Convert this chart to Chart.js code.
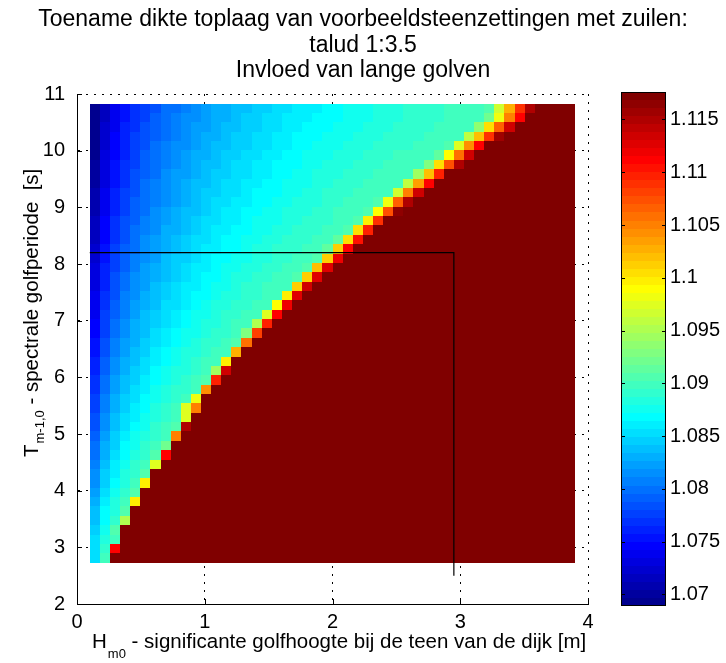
<!DOCTYPE html>
<html>

<head>
  <meta charset="utf-8">
  <title>Toename dikte toplaag - talud 1:3.5</title>
  <script src="https://cdn.jsdelivr.net/npm/chart.js@4/dist/chart.umd.min.js"></script>
  <style>
    html,
    body {
      margin: 0;
      padding: 0;
      background: #fff;
    }

    #wrap {
      position: relative;
      width: 726px;
      height: 663px;
    }

    canvas {
      position: absolute;
      top: 0;
    }
  </style>
</head>

<body>
  <div id="wrap">
    <canvas id="plot" width="726" height="663" style="left:0"></canvas>
    <canvas id="cbar" width="126" height="663" style="left:600px"></canvas>
  </div>
  <script>
    // text
    var titleLines = [
      'Toename dikte toplaag van voorbeeldsteenzettingen met zuilen:',
      'talud 1:3.5',
      'Invloed van lange golven'
    ];
    var xLabel = ['H', 'm0', ' - significante golfhoogte bij de teen van de dijk [m]'];
    var yLabel = ['T', 'm-1,0', ' - spectrale golfperiode  [s]'];

    // axes
    var xTicks = [0, 1, 2, 3, 4];
    var yTicks = [2, 3, 4, 5, 6, 7, 8, 9, 10, 11];
    var cbTicks = ['1.07', '1.075', '1.08', '1.085', '1.09', '1.095', '1.1', '1.105', '1.11', '1.115'];
    var cMin = 1.0689;
    var cMax = 1.1176;

    // grid of the image: Hm0 0.1 .. 3.9 in 48 columns, Tm-1,0 2.73 .. 10.83 in 49 rows
    var hm0From = 0.1, hm0To = 3.9, hm0Cols = 48;
    var tmFrom = 2.73, tmTo = 10.83, tmRows = 49;

    // cell levels (0..63 on the colour scale), one string per row from the top (long period) down,
    // cells left to right; cells past the end of a string are above the top of the colour scale
    var levels = '0123456789abcdefghijklmnopqrstuvwxyzABCDEFGHIJKLMNOPQRSTUVWXYZ@#';
    var rows = [
      '0368abceefghiijjkkllmmmnnooopppqqqqrrrrsAIQY',
      '0368abdefgghiijkkllmmmnnnooopppqqqqrrrruCLT',
      '0469acdefghhijjkkllmmnnnooopppqqqqrrrrwFNW',
      '0479bcdefghiijkkllmmnnnooopppqqqqrrrrzHQZ',
      '0479bcefgghijjkkllmmnnooopppqqqqrrrsBKT',
      '0579bdefghiijkkllmmnnooopppqqqrrrrtDMW',
      '158abdefghijjkllmmnnnoopppqqqrrrrvFOY',
      '158acdeghhijkkllmmnnoopppqqqrrrrxHR',
      '158acefghijjkllmmnnoooppqqqrrrrzJT',
      '269bcefghijkkllmnnnooppqqqrrrrALW',
      '269bdefghijkllmmnnoopppqqrrrsCNY',
      '269bdeghijjklmmnnoopppqqrrrsDO@',
      '37acdfghijkllmmnoooppqqqrrsEQ',
      '37acefgiijklmmnnooppqqqrrsFR',
      '37aceghijkllmnnooppqqqrrtFS',
      '48bdeghijklmmnnoppqqqrrtGT',
      '48bdfghjkklmnnooppqqrrsGU',
      '59bdfhijklmmnooppqqrrsHV',
      '59ceghijklmnnoppqqrrsGV',
      '59ceghjklmmnoopqqrrrGW',
      '6acfgijklmnnoppqqrrEV',
      '6adfhijllmnoppqqrrDU',
      '6bdfhjklmnoopqqrrBT',
      '7begijklmnoppqrryR',
      '7begijlmnoopqqrvP',
      '8cfhiklmnopqqrsM',
      '8cfhjkmnoppqrrI',
      '9dgijlmnopqrrE',
      '9dgiklnoppqrxW',
      'aehjkmnopqrsR',
      'aehjlmopqqrK',
      'bfiklnopqrC',
      'bfikmnpqrBL',
      'cgjlmopqrB',
      'cgjlnoqrsY',
      'dhkmopqrL',
      'eiknoqru',
      'eilnpqsT',
      'fjmoqrB',
      'gkmpqs',
      'gknprE',
      'hloqs',
      'imprE',
      'jnps',
      'jnqy',
      'kos',
      'lpr',
      'lqT',
      'lr'
    ];

    // black guide line (Hm0, Tm-1,0)
    var guideH = [0.1, 2.95, 2.95];
    var guideT = [8.2, 8.2, 2.5];

    var font = "'Liberation Sans', Arial, sans-serif";
    Chart.defaults.font.family = font;
    Chart.defaults.color = '#000';

    var hStep = (hm0To - hm0From) / hm0Cols;
    var tStep = (tmTo - tmFrom) / tmRows;
    var cStep = (cMax - cMin) / 64;

    function jet(k) {
      var i = k + 1, r, g, b;
      b = i <= 8 ? (i + 8) / 16 : i <= 23 ? 1 : i <= 39 ? (40 - i) / 16 : 0;
      g = i <= 8 ? 0 : i <= 24 ? (i - 8) / 16 : i <= 39 ? 1 : i <= 55 ? (56 - i) / 16 : 0;
      r = i <= 24 ? 0 : i <= 40 ? (i - 24) / 16 : i <= 55 ? 1 : (72 - i) / 16;
      return 'rgb(' + Math.round(r * 255) + ',' + Math.round(g * 255) + ',' + Math.round(b * 255) + ')';
    }

    function colorOf(v) {
      var k = Math.floor((v - cMin) / cStep);
      return jet(Math.max(0, Math.min(63, k)));
    }

    var cells = [];
    rows.forEach(function(row, r) {
      for (var c = 0; c < hm0Cols; c++) {
        var lev = c < row.length ? levels.indexOf(row[c]) : 63;
        cells.push({
          x: hm0From + (c + 0.5) * hStep,
          y: tmTo - (r + 0.5) * tStep,
          v: cMin + (lev + 0.5) * cStep
        });
      }
    });

    var heatmap = {
      id: 'heatmap',
      beforeDatasetsDraw: function(chart) {
        var ctx = chart.ctx, xs = chart.scales.x, ys = chart.scales.y;
        ctx.save();
        chart.data.datasets[0].data.forEach(function(p) {
          var x0 = Math.round(xs.getPixelForValue(p.x - hStep / 2));
          var x1 = Math.round(xs.getPixelForValue(p.x + hStep / 2));
          var y0 = Math.round(ys.getPixelForValue(p.y + tStep / 2));
          var y1 = Math.round(ys.getPixelForValue(p.y - tStep / 2));
          ctx.fillStyle = colorOf(p.v);
          ctx.fillRect(x0, y0, x1 - x0, y1 - y0);
        });
        ctx.restore();
      },
      afterDraw: function(chart) {
        var ctx = chart.ctx, a = chart.chartArea, xs = chart.scales.x, ys = chart.scales.y;
        ctx.save();
        // inward ticks
        ctx.strokeStyle = '#000';
        ctx.lineWidth = 1;
        ctx.beginPath();
        xTicks.forEach(function(v) {
          var px = Math.round(xs.getPixelForValue(v)) + 0.5;
          ctx.moveTo(px, a.bottom);
          ctx.lineTo(px, a.bottom - 5);
        });
        yTicks.forEach(function(v) {
          var py = Math.round(ys.getPixelForValue(v)) + 0.5;
          ctx.moveTo(a.left, py);
          ctx.lineTo(a.left + 5, py);
        });
        ctx.stroke();

        ctx.fillStyle = '#000';
        // title
        ctx.font = '23px ' + font;
        ctx.textAlign = 'center';
        ctx.textBaseline = 'alphabetic';
        titleLines.forEach(function(t, i) {
          ctx.fillText(t, 363, 26 + i * 25.5);
        });

        // x label with subscript
        ctx.textAlign = 'left';
        var x = 92;
        ctx.font = '20.5px ' + font;
        ctx.fillText(xLabel[0], x, 648);
        x += ctx.measureText(xLabel[0]).width + 1;
        ctx.font = '13px ' + font;
        ctx.fillText(xLabel[1], x, 658);
        x += ctx.measureText(xLabel[1]).width;
        ctx.font = '20.5px ' + font;
        ctx.fillText(xLabel[2], x, 648);

        // y label with subscript
        ctx.translate(38, 457);
        ctx.rotate(-Math.PI / 2);
        x = 0;
        ctx.fillText(yLabel[0], x, 0);
        x += ctx.measureText(yLabel[0]).width + 1;
        ctx.font = '13px ' + font;
        ctx.fillText(yLabel[1], x, 6);
        x += ctx.measureText(yLabel[1]).width;
        ctx.font = '20.5px ' + font;
        ctx.fillText(yLabel[2], x, 0);
        ctx.restore();
      }
    };

    var options = {
      type: 'scatter',
      data: {
        datasets: [{
          data: cells,
          pointRadius: 0,
          pointHitRadius: 0
        }, {
          data: guideH.map(function(h, i) { return { x: h, y: guideT[i] }; }),
          showLine: true,
          borderColor: '#000',
          borderWidth: 1.2,
          pointRadius: 0,
          tension: 0
        }]
      },
      options: {
        responsive: false,
        animation: false,
        devicePixelRatio: 1,
        events: [],
        layout: {
          padding: { left: 0, top: 94, right: 138, bottom: 0 }
        },
        plugins: {
          legend: { display: false },
          tooltip: { enabled: false },
          title: { display: false }
        },
        scales: {
          x: {
            type: 'linear',
            min: 0,
            max: 4,
            afterFit: function(s) { s.height = 59; },
            ticks: { stepSize: 1, font: { size: 20 }, color: '#000', padding: 6 },
            grid: { color: '#000', lineWidth: 1, drawTicks: false },
            border: { display: true, color: '#000', width: 1, dash: [2, 6] }
          },
          y: {
            type: 'linear',
            min: 2,
            max: 11,
            afterFit: function(s) { s.width = 77; },
            ticks: { stepSize: 1, font: { size: 20 }, color: '#000', padding: 12 },
            grid: { color: '#000', lineWidth: 1, drawTicks: false },
            border: { display: true, color: '#000', width: 1, dash: [2, 6] }
          }
        }
      },
      plugins: [heatmap]
    };

    window.plot = new Chart(document.getElementById('plot').getContext('2d'), options);

    // colour bar
    var colorbar = {
      id: 'colorbar',
      beforeDatasetsDraw: function(chart) {
        var ctx = chart.ctx, a = chart.chartArea, ys = chart.scales.y;
        ctx.save();
        for (var k = 0; k < 64; k++) {
          var y0 = Math.round(ys.getPixelForValue(cMin + (k + 1) * cStep));
          var y1 = Math.round(ys.getPixelForValue(cMin + k * cStep));
          ctx.fillStyle = jet(k);
          ctx.fillRect(a.left, y0, a.right - a.left, y1 - y0);
        }
        ctx.strokeStyle = '#000';
        ctx.lineWidth = 1;
        ctx.strokeRect(a.left + 0.5, a.top + 0.5, a.right - a.left - 1, a.bottom - a.top - 1);
        ctx.beginPath();
        cbTicks.forEach(function(t) {
          var py = Math.round(ys.getPixelForValue(parseFloat(t))) + 0.5;
          ctx.moveTo(a.left, py);
          ctx.lineTo(a.left + 4, py);
          ctx.moveTo(a.right - 4, py);
          ctx.lineTo(a.right, py);
        });
        ctx.stroke();
        ctx.restore();
      }
    };

    window.cbar = new Chart(document.getElementById('cbar').getContext('2d'), {
      type: 'scatter',
      data: { datasets: [{ data: [], pointRadius: 0 }] },
      options: {
        responsive: false,
        animation: false,
        devicePixelRatio: 1,
        events: [],
        layout: { padding: { left: 21, top: 92, right: 0, bottom: 57 } },
        plugins: { legend: { display: false }, tooltip: { enabled: false } },
        scales: {
          x: { display: false, min: 0, max: 1 },
          y: {
            position: 'right',
            min: cMin,
            max: cMax,
            afterFit: function(s) { s.width = 60; },
            afterBuildTicks: function(s) {
              s.ticks = cbTicks.map(function(t) { return { value: parseFloat(t) }; });
            },
            ticks: {
              font: { size: 20 },
              color: '#000',
              padding: 4,
              callback: function(v, i) { return cbTicks[i]; }
            },
            grid: { display: false, drawTicks: false },
            border: { display: false }
          }
        }
      },
      plugins: [colorbar]
    });
  </script>
</body>

</html>
